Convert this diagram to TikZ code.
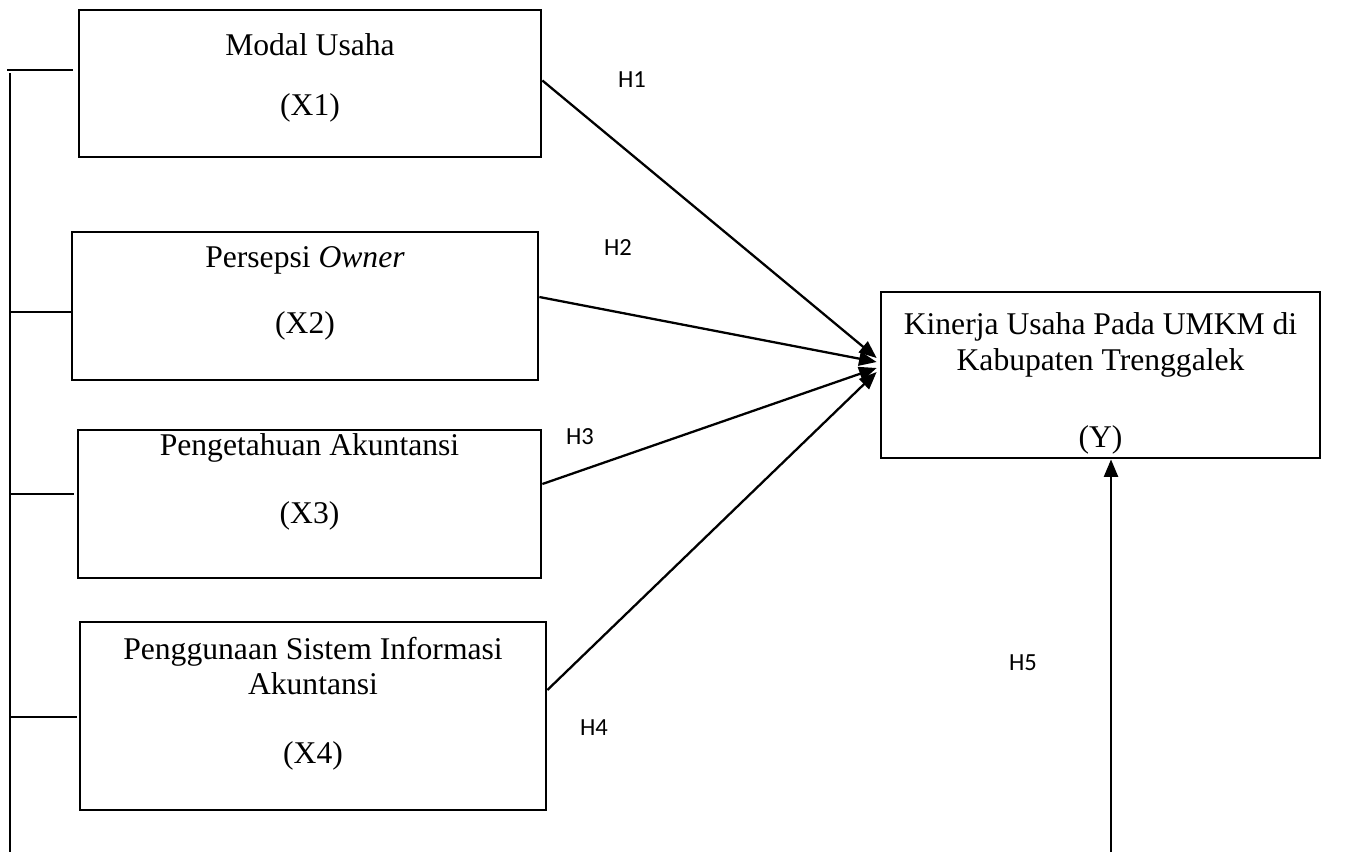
\documentclass[tikz,border=0pt]{standalone}
\usepackage{fontspec}
\setmainfont{Liberation Serif}
\newfontfamily\hypfont{Carlito}
\usetikzlibrary{arrows.meta}
\usetikzlibrary{calc}
\tikzset{varBox/.style={draw, line width=1.6pt, inner sep=0pt}}
\tikzset{varText/.style={font=\fontsize{18}{20}\selectfont, align=center, inner sep=0pt}}
\tikzset{hypLabel/.style={font=\hypfont\fontsize{14}{16}\selectfont, inner sep=0pt}}
\tikzset{link/.style={line width=1.3pt, -{Triangle[length=10pt,width=8pt]}}}
\tikzset{bracketLine/.style={line width=0.8pt}}

\begin{document}
\begin{tikzpicture}[x=0.02cm,y=-0.02cm]
\useasboundingbox (0,0) rectangle (1351,852);
% variable boxes
\node[varBox,minimum width=9.24cm,minimum height=2.94cm] (x1) at (310,83.5) {};
\node[varBox,minimum width=9.32cm,minimum height=2.96cm] (x2) at (305,306) {};
\node[varBox,minimum width=9.26cm,minimum height=2.96cm] (x3) at (309.5,504) {};
\node[varBox,minimum width=9.32cm,minimum height=3.76cm] (x4) at (313,716) {};
\node[varBox,minimum width=8.78cm,minimum height=3.32cm] (y) at (1100.5,375) {};
%
% box texts
\node[varText] (x1name) at (310,45) {Modal Usaha};
\node[varText] (x1code) at (310,108) {(X1)};
\node[varText] (x2name) at (305,260) {Persepsi \textit{Owner}};
\node[varText] (x2code) at (305,326) {(X2)};
\node[varText] (x3name) at (309.5,448) {Pengetahuan Akuntansi};
\node[varText] (x3code) at (309.5,516) {(X3)};
\node[varText] (x4name) at (313,666) {Penggunaan Sistem Informasi\\Akuntansi};
\node[varText] (x4code) at (313,756) {(X4)};
\node[varText] (yname) at (1100.5,345) {Kinerja Usaha Pada UMKM di\\Kabupaten Trenggalek};
\node[varText] (ycode) at (1100.5,440) {(Y)};
%
% hypothesis labels
\node[hypLabel] (h1) at (632,80) {H1};
\node[hypLabel] (h2) at (618,248) {H2};
\node[hypLabel] (h3) at (580,437) {H3};
\node[hypLabel] (h4) at (594,728) {H4};
\node[hypLabel] (h5) at (1023,663) {H5};
%
% arrows to Y
\draw[link] ($(x1.east)+(0,-3)$) -- ($(y.west)+(-3,-17)$);
\draw[link] ($(x2.east)+(0,-9)$) -- ($(y.west)+(-3,-13)$);
\draw[link] ($(x3.east)+(0,-20)$) -- ($(y.west)+(-3,-7)$);
\draw[link] ($(x4.east)+(0,-26)$) -- ($(y.west)+(-3,-3)$);
\coordinate (h5foot) at (1111,852);
\draw[link] (h5foot) -- (h5foot |- y.south);
%
% left bracket
\coordinate (btop) at (10,73);
\coordinate (bbot) at (10,852);
\draw[bracketLine] (btop) -- (bbot);
\draw[bracketLine] (7,70) -- ($(x1.west)+(-5,-13.5)$);
\draw[bracketLine] (btop |- 0,312) -- ($(x2.west)+(2,6)$);
\draw[bracketLine] (btop |- 0,494) -- ($(x3.west)+(-3,-10)$);
\draw[bracketLine] (btop |- 0,717) -- ($(x4.west)+(-2,1)$);
\end{tikzpicture}
\end{document}
